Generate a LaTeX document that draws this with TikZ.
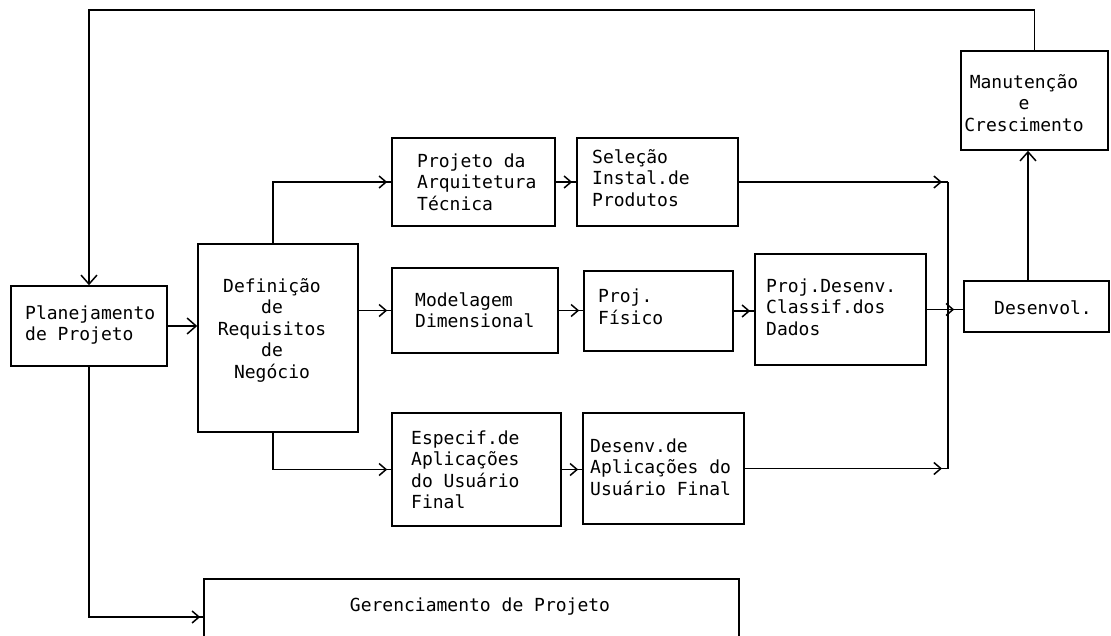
\documentclass[tikz,border=0pt]{standalone}
\usepackage{fontspec}
\setmonofont{DejaVu Sans Mono}
\usetikzlibrary{arrows.meta,decorations.markings}

\tikzset{
  box/.style={draw, rectangle, line width=1.6pt, inner sep=0pt},
  lbl/.style={font=\ttfamily\fontsize{18}{21.5}\selectfont, inner sep=0pt, align=left},
  clbl/.style={lbl, align=center},
  wire/.style={line width=1.6pt},
  bigtip/.style={wire, -{Straight Barb[length=9pt,width=16pt,line width=1.5pt]}},
  tipgap/.style={wire, postaction={decorate},
    decoration={markings, mark=at position -#1 with
      {\arrow{Straight Barb[length=7pt,width=12pt,line width=1.5pt]}}}},
  tipgap/.default=4pt,
}

\begin{document}
\begin{tikzpicture}[x=1pt,y=-1pt]
  \useasboundingbox (0,0) rectangle (1111,635);
  \clip (0,0) rectangle (1111,635);
  \fill[white] (0,0) rectangle (1111,635);

  % boxes
  \node[box, minimum width=156, minimum height=80]  (plan) at (89,326) {};
  \node[box, minimum width=160, minimum height=188] (def)  at (278,338) {};
  \node[box, minimum width=163, minimum height=88]  (arq)  at (473.5,182) {};
  \node[box, minimum width=161, minimum height=88]  (sel)  at (657.5,182) {};
  \node[box, minimum width=166, minimum height=85]  (mod)  at (475,310.5) {};
  \node[box, minimum width=149, minimum height=80]  (fis)  at (658.5,311) {};
  \node[box, minimum width=171, minimum height=111] (pdd)  at (840.5,309.5) {};
  \node[box, minimum width=169, minimum height=113] (esp)  at (476.5,469.5) {};
  \node[box, minimum width=161, minimum height=111] (dap)  at (663.5,468.5) {};
  \node[box, minimum width=147, minimum height=99]  (man)  at (1034.5,100.5) {};
  \node[box, minimum width=145, minimum height=51]  (dev)  at (1036.5,306.5) {};
  \node[box, minimum width=535, minimum height=76]  (ger)  at (471.5,617) {};

  % texts
  \node[lbl, anchor=west] (plan-t) at (25,325) {Planejamento\\de Projeto};
  \node[clbl] (def-t) at (272,330) {Definição\\de\\Requisitos\\de\\Negócio};
  \node[lbl, anchor=west] (arq-t) at (417,182) {Projeto da\\Arquitetura\\Técnica};
  \node[lbl, anchor=west] (sel-t) at (592,178) {Seleção\\Instal.de\\Produtos};
  \node[lbl, anchor=west] (mod-t) at (415,310) {Modelagem\\Dimensional};
  \node[lbl, anchor=west] (fis-t) at (598,307) {Proj.\\Físico};
  \node[lbl, anchor=west] (pdd-t) at (766,307) {Proj.Desenv.\\Classif.dos\\Dados};
  \node[lbl, anchor=west] (esp-t) at (411,470) {Especif.de\\Aplicações\\do Usuário\\Final};
  \node[lbl, anchor=west] (dap-t) at (590,467) {Desenv.de\\Aplicações do\\Usuário Final};
  \node[clbl] (man-t) at (1024,103) {Manutenção\\e\\Crescimento};
  \node[clbl] (dev-t) at (1043,308) {Desenvol.};
  \node[clbl] (ger-t) at (480,607) {Gerenciamento de Projeto};

  % junction points
  \coordinate (fbk) at (89,10);
  \coordinate (mrgTop) at (948,182);
  \coordinate (mrgBot) at (948,468.5);

  % connectors
  \draw[bigtip] (plan.east) -- (plan.east -| def.west);
  \draw[tipgap] ([xshift=-5pt]def.north) |- (arq.west);
  \draw[tipgap] ([xshift=-5pt]def.south) |- (esp.west);
  \draw[tipgap] (def.east |- mod.west) -- (mod.west);
  \draw[tipgap] (arq.east) -- (sel.west);
  \draw[tipgap] (mod.east) -- (mod.east -| fis.west);
  \draw[tipgap] (fis.east) -- (fis.east -| pdd.west);
  \draw[tipgap] (esp.east) -- (esp.east -| dap.west);
  \draw[tipgap=6pt] (sel.east) -- (mrgTop);
  \draw[wire] (mrgTop) -- (mrgBot);
  \draw[tipgap=6pt] (dap.east) -- (mrgBot);
  \draw[tipgap=9pt] (pdd.east) -- (pdd.east -| dev.west);
  \draw[bigtip] ([xshift=-8.5pt]dev.north) -- ([xshift=-8.5pt]dev.north |- man.south);
  \draw[bigtip] (man.north) |- (fbk) -- (plan.north);
  \draw[tipgap=3pt] (plan.south) |- (ger.west);
\end{tikzpicture}
\end{document}
